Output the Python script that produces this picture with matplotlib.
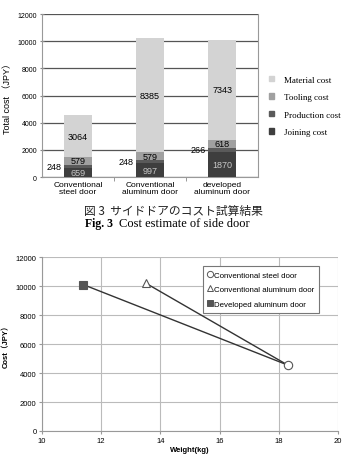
import numpy as np
import matplotlib
matplotlib.use("Agg")
import matplotlib.pyplot as plt
from matplotlib.patches import Patch
from matplotlib.lines import Line2D

plt.rcParams.update({"font.family": ["Liberation Sans", "DejaVu Sans"], "font.size": 6})

# data: side door cost breakdown (JPY) and weight (kg)
doors = ["Conventional\nsteel door", "Conventional\naluminum door", "developed\naluminum door"]
joining = [659, 997, 1870]
production = [248, 248, 266]
tooling = [579, 579, 618]
material = [3064, 8385, 7343]
weight = [18.3, 13.5, 11.4]
legend_names = ["Conventional steel door", "Conventional aluminum door", "Developed aluminum door"]
stack_names = ["Material cost", "Tooling cost", "Production cost", "Joining cost"]

C = {"joining": "#3e3e3e", "production": "#5a5a5a", "tooling": "#a0a0a0", "material": "#d3d3d3"}
NARROW = ["Liberation Sans Narrow", "Liberation Sans", "DejaVu Sans"]
SERIF = ["Liberation Serif", "DejaVu Serif"]

fig = plt.figure(figsize=(3.43, 4.60), dpi=100)

# 1) stacked bar chart
ax = fig.add_axes([0.1224, 0.613, 0.630, 0.354])
x = np.arange(len(doors)); w = 0.39
j = np.array(joining); p = np.array(production); t = np.array(tooling); m = np.array(material)
ax.bar(x, j, w, color=C["joining"], zorder=3)
ax.bar(x, p, w, bottom=j, color=C["production"], zorder=3)
ax.bar(x, t, w, bottom=j + p, color=C["tooling"], zorder=3)
ax.bar(x, m, w, bottom=j + p + t, color=C["material"], zorder=3)
fs = 6.5
for i in range(len(doors)):
    ax.text(x[i], j[i] / 2, f"{j[i]}", ha="center", va="center", color="#c8c8c8", fontsize=fs, family=NARROW, zorder=4)
    ax.text(x[i] - w / 2 - 0.03, j[i] + p[i] / 2, f"{p[i]}", ha="right", va="center", fontsize=fs, family=NARROW, zorder=4)
    ax.text(x[i], j[i] + p[i] + t[i] / 2, f"{t[i]}", ha="center", va="center", fontsize=fs, family=NARROW, zorder=4)
    ax.text(x[i], j[i] + p[i] + t[i] + m[i] / 2, f"{m[i]}", ha="center", va="center", fontsize=fs, family=NARROW, zorder=4)
ax.set_xlim(-0.5, 2.5); ax.set_ylim(0, 12000)
ax.set_yticks(np.arange(0, 12001, 2000))
ax.set_yticklabels([str(v) for v in range(0, 12001, 2000)], family=NARROW, fontsize=5)
ax.yaxis.grid(True, color="#555555", lw=0.9, zorder=0)
ax.set_xticks(x); ax.set_xticklabels(doors, fontsize=6, linespacing=1.0)
ax.set_xticks([0.5, 1.5], minor=True)
ax.tick_params(axis="x", which="major", length=0, pad=3)
ax.tick_params(axis="x", which="minor", length=3, color="#888888")
ax.tick_params(axis="y", length=3, direction="inout", color="#888888", pad=2)
ax.spines["top"].set_visible(False)
for s in ["left", "right", "bottom"]:
    ax.spines[s].set_color("#999999"); ax.spines[s].set_linewidth(0.8)
ax.set_ylabel("Total cost （JPY）", fontsize=6.5, family=["Liberation Sans", "Noto Sans CJK JP"], labelpad=4)
hs = [Patch(color=C[k]) for k in ["material", "tooling", "production", "joining"]]
ax.legend(hs, stack_names, loc="upper left", bbox_to_anchor=(1.03, 0.65), frameon=False,
          prop={"family": SERIF, "size": 6.5}, handlelength=0.5, handleheight=0.6,
          handletextpad=1.1, labelspacing=1.05, borderpad=0)

# captions
fig.text(0.505, 1 - 211 / 460, "図 3  サイドドアのコスト試算結果", ha="center", va="center",
         fontsize=8.5, family=["Noto Sans CJK JP", "DejaVu Sans"], color="#222222")
fig.text(113 / 343, 1 - 224 / 460, "Fig. 3", ha="right", va="center", fontsize=8.5, family=SERIF, weight="bold")
fig.text(119 / 343, 1 - 224 / 460, "Cost estimate of side door", ha="left", va="center", fontsize=9, family=SERIF)

# 2) cost vs weight
total = j + p + t + m
bx = fig.add_axes([0.1224, 0.0609, 0.863, 0.378])
bx.plot([weight[0], weight[1]], [total[0], total[1]], color="#333333", lw=1, zorder=2)
bx.plot([weight[0], weight[2]], [total[0], total[2]], color="#333333", lw=1, zorder=2)
mk = [("o", "white"), ("^", "white"), ("s", "#555555")]
for i in range(3):
    bx.plot(weight[i], total[i], marker=mk[i][0], ms=6, mfc=mk[i][1], mec="#555555", mew=0.8, ls="none", zorder=3)
bx.set_xlim(10, 20); bx.set_ylim(0, 12000)
bx.set_xticks(np.arange(10, 21, 2)); bx.set_yticks(np.arange(0, 12001, 2000))
bx.grid(True, color="#bbbbbb", lw=0.8, zorder=0)
bx.tick_params(labelsize=5.5, length=2, color="#999999", pad=2)
for s in ["top", "right"]:
    bx.spines[s].set_visible(False)
for s in ["left", "bottom"]:
    bx.spines[s].set_color("#999999")
bx.set_xlabel("Weight(kg)", fontsize=5.5, weight="bold", labelpad=2)
bx.set_ylabel("Cost（JPY）", fontsize=5.5, weight="bold", family=["Liberation Sans", "Noto Sans CJK JP"], labelpad=4)
lh = [Line2D([], [], marker=mk[i][0], ms=4.5, mfc=mk[i][1], mec="#555555", mew=0.7, ls="none") for i in range(3)]
leg = bx.legend(lh, legend_names, loc="upper right", bbox_to_anchor=(0.95, 0.97), fontsize=5.7,
                fancybox=False, edgecolor="#777777", framealpha=1, handlelength=0.6,
                handletextpad=0.2, labelspacing=0.9, borderpad=0.6)
leg.get_frame().set_linewidth(0.8)

fig.savefig("out.png", dpi=100)
